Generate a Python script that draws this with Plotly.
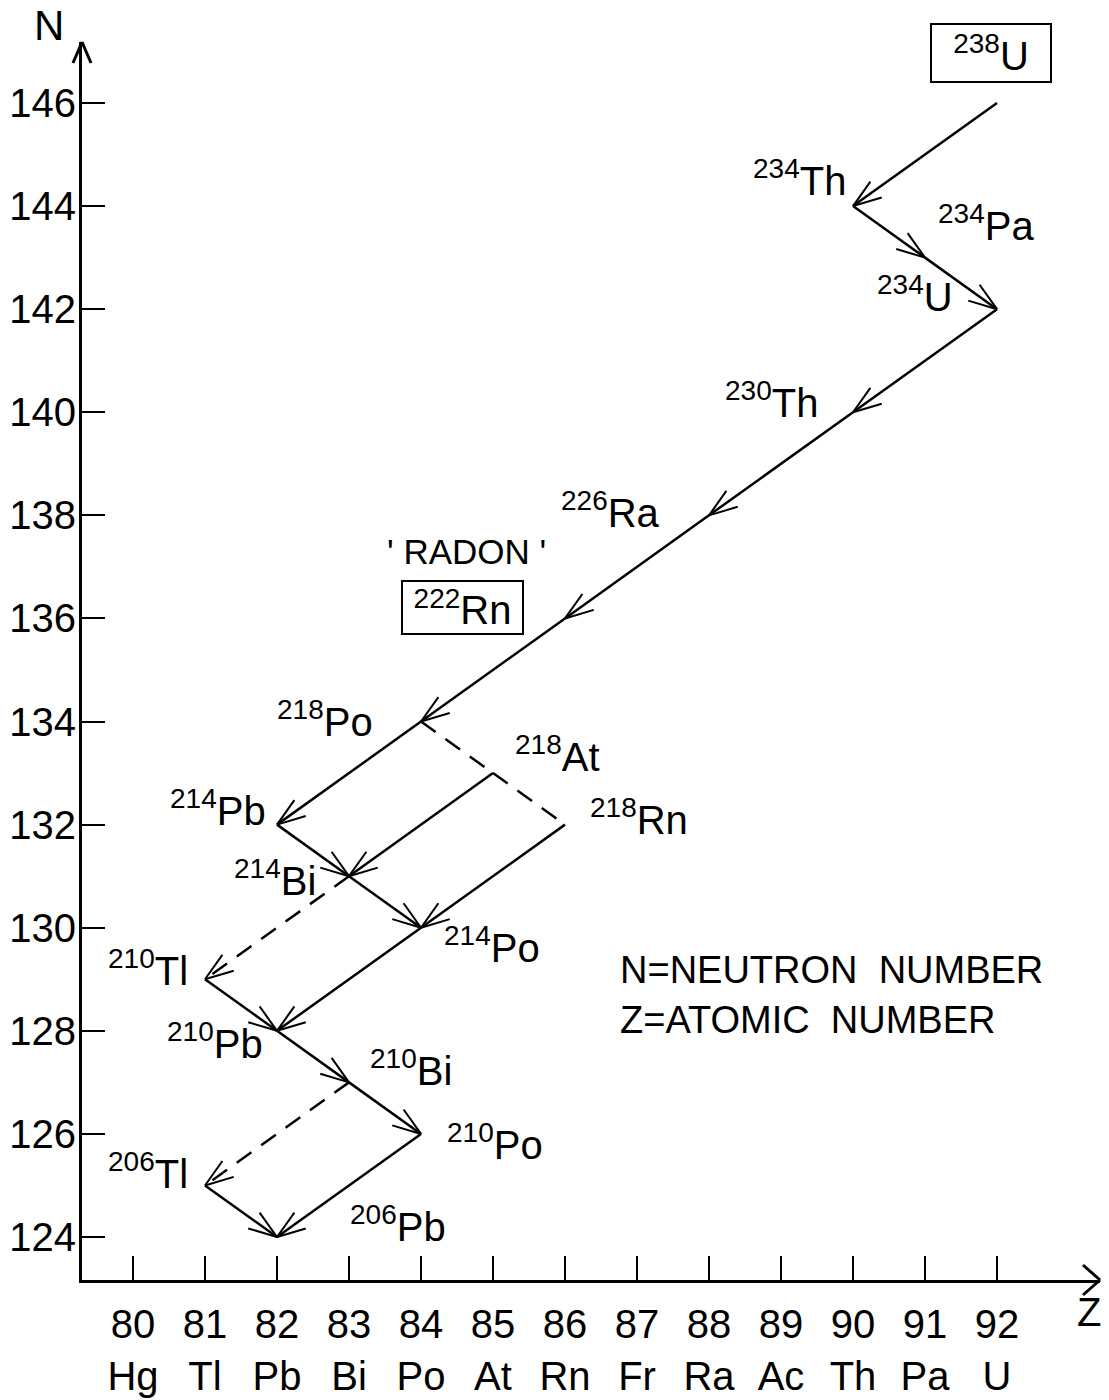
import math
import plotly.graph_objects as go

# ---------------- data ----------------
nuclides = ["238U", "234Th", "234Pa", "234U", "230Th", "226Ra", "222Rn", "218Po",
            "218At", "218Rn", "214Pb", "214Bi", "214Po", "210Tl", "210Pb", "210Bi",
            "210Po", "206Tl", "206Pb"]
atomic_z = [92, 90, 91, 92, 90, 88, 86, 84, 85, 86, 82, 83, 84, 81, 82, 83, 84, 81, 82]
neutron_n = [146, 144, 143, 142, 140, 138, 136, 134, 133, 132, 132, 131, 130, 129, 128,
             127, 126, 125, 124]

decay_from = ["238U", "234Th", "234Pa", "234U", "230Th", "226Ra", "222Rn", "218Po",
              "218Po", "218At", "218At", "218Rn", "214Pb", "214Bi", "214Bi", "214Po",
              "210Tl", "210Pb", "210Bi", "210Bi", "210Po", "206Tl"]
decay_to = ["234Th", "234Pa", "234U", "230Th", "226Ra", "222Rn", "218Po", "214Pb",
            "218At", "218Rn", "214Bi", "214Po", "214Bi", "214Po", "210Tl", "210Pb",
            "210Pb", "210Bi", "210Po", "206Tl", "206Pb", "206Pb"]
decay_dashed = [False, False, False, False, False, False, False, False,
                True, True, False, False, False, False, True, False,
                False, False, False, True, False, False]
decay_head = [True, True, True, True, True, True, True, True,
              False, False, True, True, True, True, True, True,
              True, True, True, True, True, True]

z_ticks = [80, 81, 82, 83, 84, 85, 86, 87, 88, 89, 90, 91, 92]
z_elements = ["Hg", "Tl", "Pb", "Bi", "Po", "At", "Rn", "Fr", "Ra", "Ac", "Th", "Pa", "U"]
n_ticks = [124, 126, 128, 130, 132, 134, 136, 138, 140, 142, 144, 146]

boxed = ["238U", "222Rn"]

# ---------------- layout constants ----------------
W, H = 1109, 1400
ML, MR, MT, MB = 82, 9, 42, 120
X_RANGE = [79.2917, 93.4306]
Y_RANGE = [123.166, 147.183]
PW = W - ML - MR
PH = H - MT - MB
SX = PW / (X_RANGE[1] - X_RANGE[0])
SY = PH / (Y_RANGE[1] - Y_RANGE[0])

FONT = "Liberation Sans"

# label placement (layout): nuclide -> (z, n, xanchor)
label_pos = {
    "238U": (91.917, 146.97, "center"),
    "234Th": (89.931, 144.545, "right"),
    "234Pa": (91.153, 143.672, "left"),
    "234U": (91.417, 142.294, "right"),
    "230Th": (89.542, 140.238, "right"),
    "226Ra": (87.347, 138.104, "right"),
    "222Rn": (84.583, 136.222, "center"),
    "218Po": (83.361, 134.049, "right"),
    "218At": (85.278, 133.370, "left"),
    "218Rn": (86.319, 132.148, "left"),
    "214Pb": (81.875, 132.323, "right"),
    "214Bi": (82.569, 130.965, "right"),
    "214Po": (84.292, 129.665, "left"),
    "210Tl": (80.792, 129.219, "right"),
    "210Pb": (81.833, 127.803, "right"),
    "210Bi": (83.264, 127.279, "left"),
    "210Po": (84.333, 125.843, "left"),
    "206Tl": (80.792, 125.280, "right"),
    "206Pb": (82.986, 124.252, "left"),
}

pos = {name: (z, n) for name, z, n in zip(nuclides, atomic_z, neutron_n)}

fig = go.Figure()

solid_x, solid_y, dash_x, dash_y, arm_x, arm_y = [], [], [], [], [], []
ARM_LEN = 30
ARM_HALF = math.radians(19)
for src, dst, dashed, head in zip(decay_from, decay_to, decay_dashed, decay_head):
    zs, ns = pos[src]
    zt, nt = pos[dst]
    if dashed:
        dash_x += [zs, zt, None]
        dash_y += [ns, nt, None]
    else:
        solid_x += [zs, zt, None]
        solid_y += [ns, nt, None]
    if head:
        dx = (zt - zs) * SX
        dy = (nt - ns) * SY
        L = math.hypot(dx, dy)
        ux, uy = dx / L, dy / L
        for s in (1, -1):
            a = ARM_HALF * s
            bx = -ux * math.cos(a) + uy * math.sin(a)
            by = -ux * math.sin(a) - uy * math.cos(a)
            arm_x += [zt, zt + bx * ARM_LEN / SX, None]
            arm_y += [nt, nt + by * ARM_LEN / SY, None]

fig.add_trace(go.Scatter(x=solid_x, y=solid_y, mode="lines",
                         line=dict(color="black", width=2.5), hoverinfo="skip"))
fig.add_trace(go.Scatter(x=dash_x, y=dash_y, mode="lines",
                         line=dict(color="black", width=2.5, dash="18px,12px"),
                         hoverinfo="skip"))
fig.add_trace(go.Scatter(x=arm_x, y=arm_y, mode="lines",
                         line=dict(color="black", width=2), hoverinfo="skip"))

annotations = []
for name in nuclides:
    z, n, anc = label_pos[name]
    mass = "".join(c for c in name if c.isdigit())
    sym = "".join(c for c in name if c.isalpha())
    ann = dict(x=z, y=n, xref="x", yref="y", text=f"<sup>{mass}</sup>{sym}",
               showarrow=False, xanchor=anc, yanchor="middle",
               font=dict(family=FONT, size=40, color="black"))
    if name in boxed:
        ann.update(bordercolor="black", borderwidth=2, borderpad=4,
                   width=110 if name == "238U" else 111,
                   height=48 if name == "238U" else 43, valign="middle")
    annotations.append(ann)

annotations += [
    dict(x=84.625, y=137.308, xref="x", yref="y", text="' RADON '", showarrow=False,
         xanchor="center", yanchor="middle", font=dict(family=FONT, size=35, color="black")),
    dict(x=86.736, y=129.180, xref="x", yref="y", text="N=NEUTRON  NUMBER", showarrow=False,
         xanchor="left", yanchor="middle", font=dict(family=FONT, size=38, color="black")),
    dict(x=86.736, y=128.210, xref="x", yref="y", text="Z=ATOMIC  NUMBER", showarrow=False,
         xanchor="left", yanchor="middle", font=dict(family=FONT, size=38, color="black")),
    dict(x=(49 - ML) / PW, y=(H - MB - 26) / PH, xref="paper", yref="paper", text="N",
         showarrow=False, xanchor="center", yanchor="middle",
         font=dict(family=FONT, size=42, color="black")),
    dict(x=(1089 - ML) / PW, y=(H - MB - 1312) / PH, xref="paper", yref="paper", text="Z",
         showarrow=False, xanchor="center", yanchor="middle",
         font=dict(family=FONT, size=40, color="black")),
]

# axis arrowheads (paper coords)
shapes = []
for s in (1, -1):
    shapes.append(dict(type="line", xref="paper", yref="paper", x0=1, y0=0,
                       x1=1 - 17 / PW, y1=s * 15 / PH, line=dict(color="black", width=3)))
    shapes.append(dict(type="line", xref="paper", yref="paper", x0=0, y0=1,
                       x1=s * 9 / PW, y1=1 - 21 / PH, line=dict(color="black", width=3)))

fig.update_layout(
    width=W, height=H,
    margin=dict(l=ML, r=MR, t=MT, b=MB, autoexpand=False),
    paper_bgcolor="white", plot_bgcolor="white",
    showlegend=False,
    annotations=annotations,
    shapes=shapes,
    font=dict(family=FONT, color="black"),
)
fig.update_xaxes(
    range=X_RANGE, showgrid=False, zeroline=False, showline=True, linecolor="black",
    linewidth=3, ticks="inside", ticklen=24, tickwidth=2, tickcolor="black",
    tickvals=z_ticks, ticktext=[f"{z}<br>{e}" for z, e in zip(z_ticks, z_elements)],
    tickfont=dict(family=FONT, size=40, color="black"), ticklabelstandoff=7,
    automargin=False,
)
fig.update_yaxes(
    range=Y_RANGE, showgrid=False, zeroline=False, showline=True, linecolor="black",
    linewidth=3, ticks="inside", ticklen=23, tickwidth=2, tickcolor="black",
    tickvals=n_ticks, tickfont=dict(family=FONT, size=40, color="black"),
    ticklabelstandoff=-5, automargin=False,
)

fig.write_html("out.html", config={"displayModeBar": False},
               post_script="document.body.style.margin='0';document.body.style.overflow='hidden';")
